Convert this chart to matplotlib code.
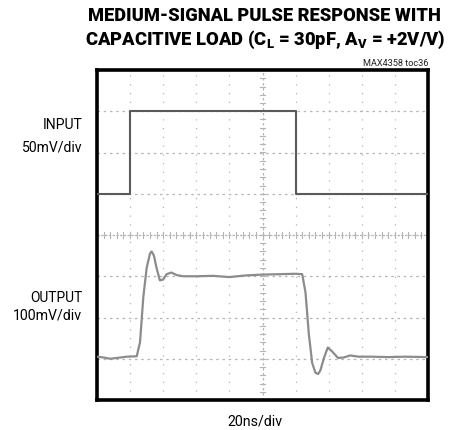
import matplotlib
matplotlib.use("Agg")
import matplotlib.pyplot as plt
import numpy as np

# scope coordinates: 10 horizontal divisions, 8 vertical divisions
input_t = [0.0, 1.0, 1.0, 6.0, 6.0, 10.0]
input_v = [5.0, 5.0, 7.0, 7.0, 5.0, 5.0]

output_t = [0.0, 0.2, 0.4, 0.6, 0.9, 1.2, 1.3, 1.4, 1.5, 1.6, 1.65, 1.72, 1.8,
            1.9, 2.0, 2.1, 2.25, 2.4, 2.6, 3.0, 3.5, 4.0, 4.5, 5.0, 5.5, 6.0,
            6.2, 6.3, 6.4, 6.5, 6.6, 6.68, 6.75, 6.85, 6.97, 7.1, 7.28, 7.45,
            7.65, 7.9, 8.3, 8.8, 9.3, 10.0]
output_v = [1.05, 1.03, 1.0, 1.02, 1.05, 1.06, 1.4, 2.5, 3.2, 3.55, 3.6, 3.5,
            3.2, 2.9, 2.92, 3.05, 3.09, 3.03, 3.0, 3.0, 3.01, 2.98, 3.02, 3.04,
            3.05, 3.06, 3.05, 2.6, 1.6, 0.9, 0.66, 0.63, 0.72, 1.0, 1.27, 1.18,
            1.02, 1.03, 1.08, 1.05, 1.05, 1.04, 1.05, 1.04]

title_line1 = "MEDIUM-SIGNAL PULSE RESPONSE WITH"
title_line2 = r"CAPACITIVE LOAD (C$_\mathbf{L}$ = 30pF, A$_\mathbf{V}$ = +2V/V)"
chart_id = "MAX4358 toc36"
x_label = "20ns/div"
ch_labels = [("INPUT", "50mV/div"), ("OUTPUT", "100mV/div")]

font = ["Roboto", "DejaVu Sans"]
plt.rcParams["mathtext.fontset"] = "custom"
plt.rcParams["mathtext.bf"] = "Roboto:black"

fig = plt.figure(figsize=(4.61, 4.30), dpi=100)
ax = fig.add_axes([97 / 461, 30 / 430, 331 / 461, 330 / 430])
ax.set_xlim(0, 10)
ax.set_ylim(0, 8)

grid_col = "#b5b5b5"
for gx in range(1, 10):
    if gx == 5:
        continue
    ax.plot([gx, gx], [0, 8], color=grid_col, lw=0.9, ls=(0, (1, 6)), zorder=1)
for gy in range(1, 8):
    if gy == 4:
        continue
    ax.plot([0, 10], [gy, gy], color=grid_col, lw=0.9, ls=(0, (2, 3)), zorder=1)

# centre graticule with minor ticks
ax.plot([5, 5], [0, 8], color=grid_col, lw=0.9, ls=(0, (2, 2)), zorder=1)
ax.plot([0, 10], [4, 4], color=grid_col, lw=0.9, ls=(0, (2, 1)), zorder=1)
for t in np.arange(0.2, 10, 0.2):
    ax.plot([t, t], [3.93, 4.07], color=grid_col, lw=0.8, zorder=1)
for t in np.arange(0.2, 8, 0.2):
    ax.plot([4.93, 5.07], [t, t], color=grid_col, lw=0.8, zorder=1)

ax.plot(input_t, input_v, color="#5a5a5a", lw=1.5, zorder=3)
ax.plot(output_t, output_v, color="#8c8c8c", lw=1.6, zorder=3)

ax.set_xticks([])
ax.set_yticks([])
for sp in ax.spines.values():
    sp.set_linewidth(2.6)
    sp.set_color("black")

renderer = fig.canvas.get_renderer()


def fit_text(x, y, s, width_px, ha="center", **kw):
    # shrink/grow the font so the text spans about width_px pixels
    t = fig.text(x / 461, 1 - y / 430, s, ha=ha, va="center",
                 family=font, fontsize=10, **kw)
    w = t.get_window_extent(renderer).width
    t.set_fontsize(10 * width_px / w)
    return t


fit_text(264, 16, title_line1, 350, fontweight="black")
fit_text(265, 40, title_line2, 362, fontweight="black")
fit_text(428, 64, chart_id, 66, ha="right", color="#222222")

label_rows = [(125, 147), (298, 316)]
label_widths = [(40, 61), (52, 69)]
for (name, scale), (y1, y2), (w1, w2) in zip(ch_labels, label_rows, label_widths):
    fit_text(82, y1, name, w1, ha="right")
    fit_text(82, y2, scale, w2, ha="right")

fit_text(255, 421, x_label, 55)

fig.savefig("out.png", dpi=100)
